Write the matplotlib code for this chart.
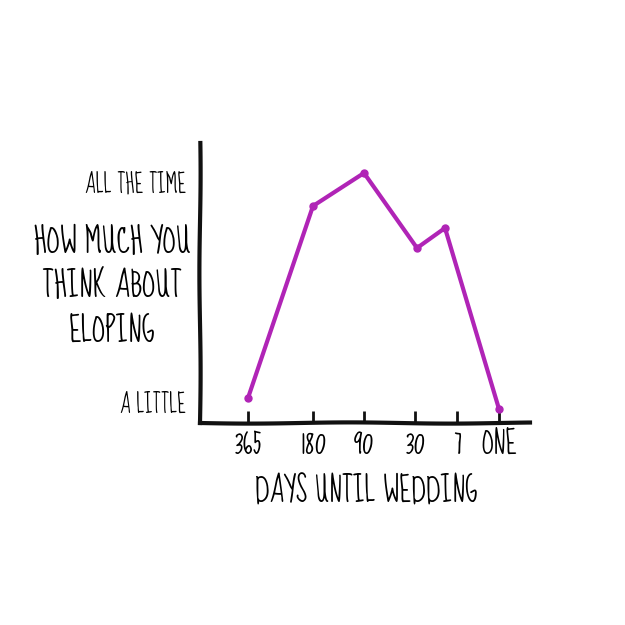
import matplotlib.pyplot as plt

# data (x in an arbitrary "position" scale, y in "how much" scale)
tick_pos = [48, 113, 164, 215, 257, 299]
tick_labels = ['365', '180', '90', '30', '7', 'ONE']
point_x = [48, 113, 164, 217, 245, 299]
point_y = [25, 217, 250, 175, 195, 14]
level_pos = [20, 241]
level_labels = ['A LITTLE', 'ALL THE TIME']

plt.rcParams['font.family'] = ['Sue Ellen Francisco', 'DejaVu Sans']

fig = plt.figure(figsize=(6.25, 6.25), dpi=100)
ax = fig.add_axes([200/625, 202/625, 330/625, 280/625])

ax.plot(point_x, point_y, color='#b024b6', lw=3, marker='o', ms=5,
        solid_joinstyle='miter')

ax.set_xlim(0, 330)
ax.set_ylim(0, 280)

for s in ['top', 'right']:
    ax.spines[s].set_visible(False)
for s in ['left', 'bottom']:
    ax.spines[s].set_linewidth(3)
    ax.spines[s].set_color('#111111')
    ax.spines[s].set_sketch_params(0.6, 200, 1)

ax.set_xticks(tick_pos)
ax.set_xticklabels(tick_labels, fontsize=21)
ax.tick_params(axis='x', direction='in', length=9, width=2, color='#111111', pad=4)
ax.set_yticks(level_pos)
ax.set_yticklabels(level_labels, fontsize=16)
ax.tick_params(axis='y', length=0, pad=10)

fig.text(112/625, 1 - 292/625, 'HOW MUCH YOU\nTHINK ABOUT\nELOPING',
         ha='center', va='center', fontsize=23, linespacing=1.0)
fig.text(366/625, 1 - 497/625, 'DAYS UNTIL WEDDING', ha='center', va='center',
         fontsize=22)

fig.savefig('out.png', dpi=100, facecolor='white')
